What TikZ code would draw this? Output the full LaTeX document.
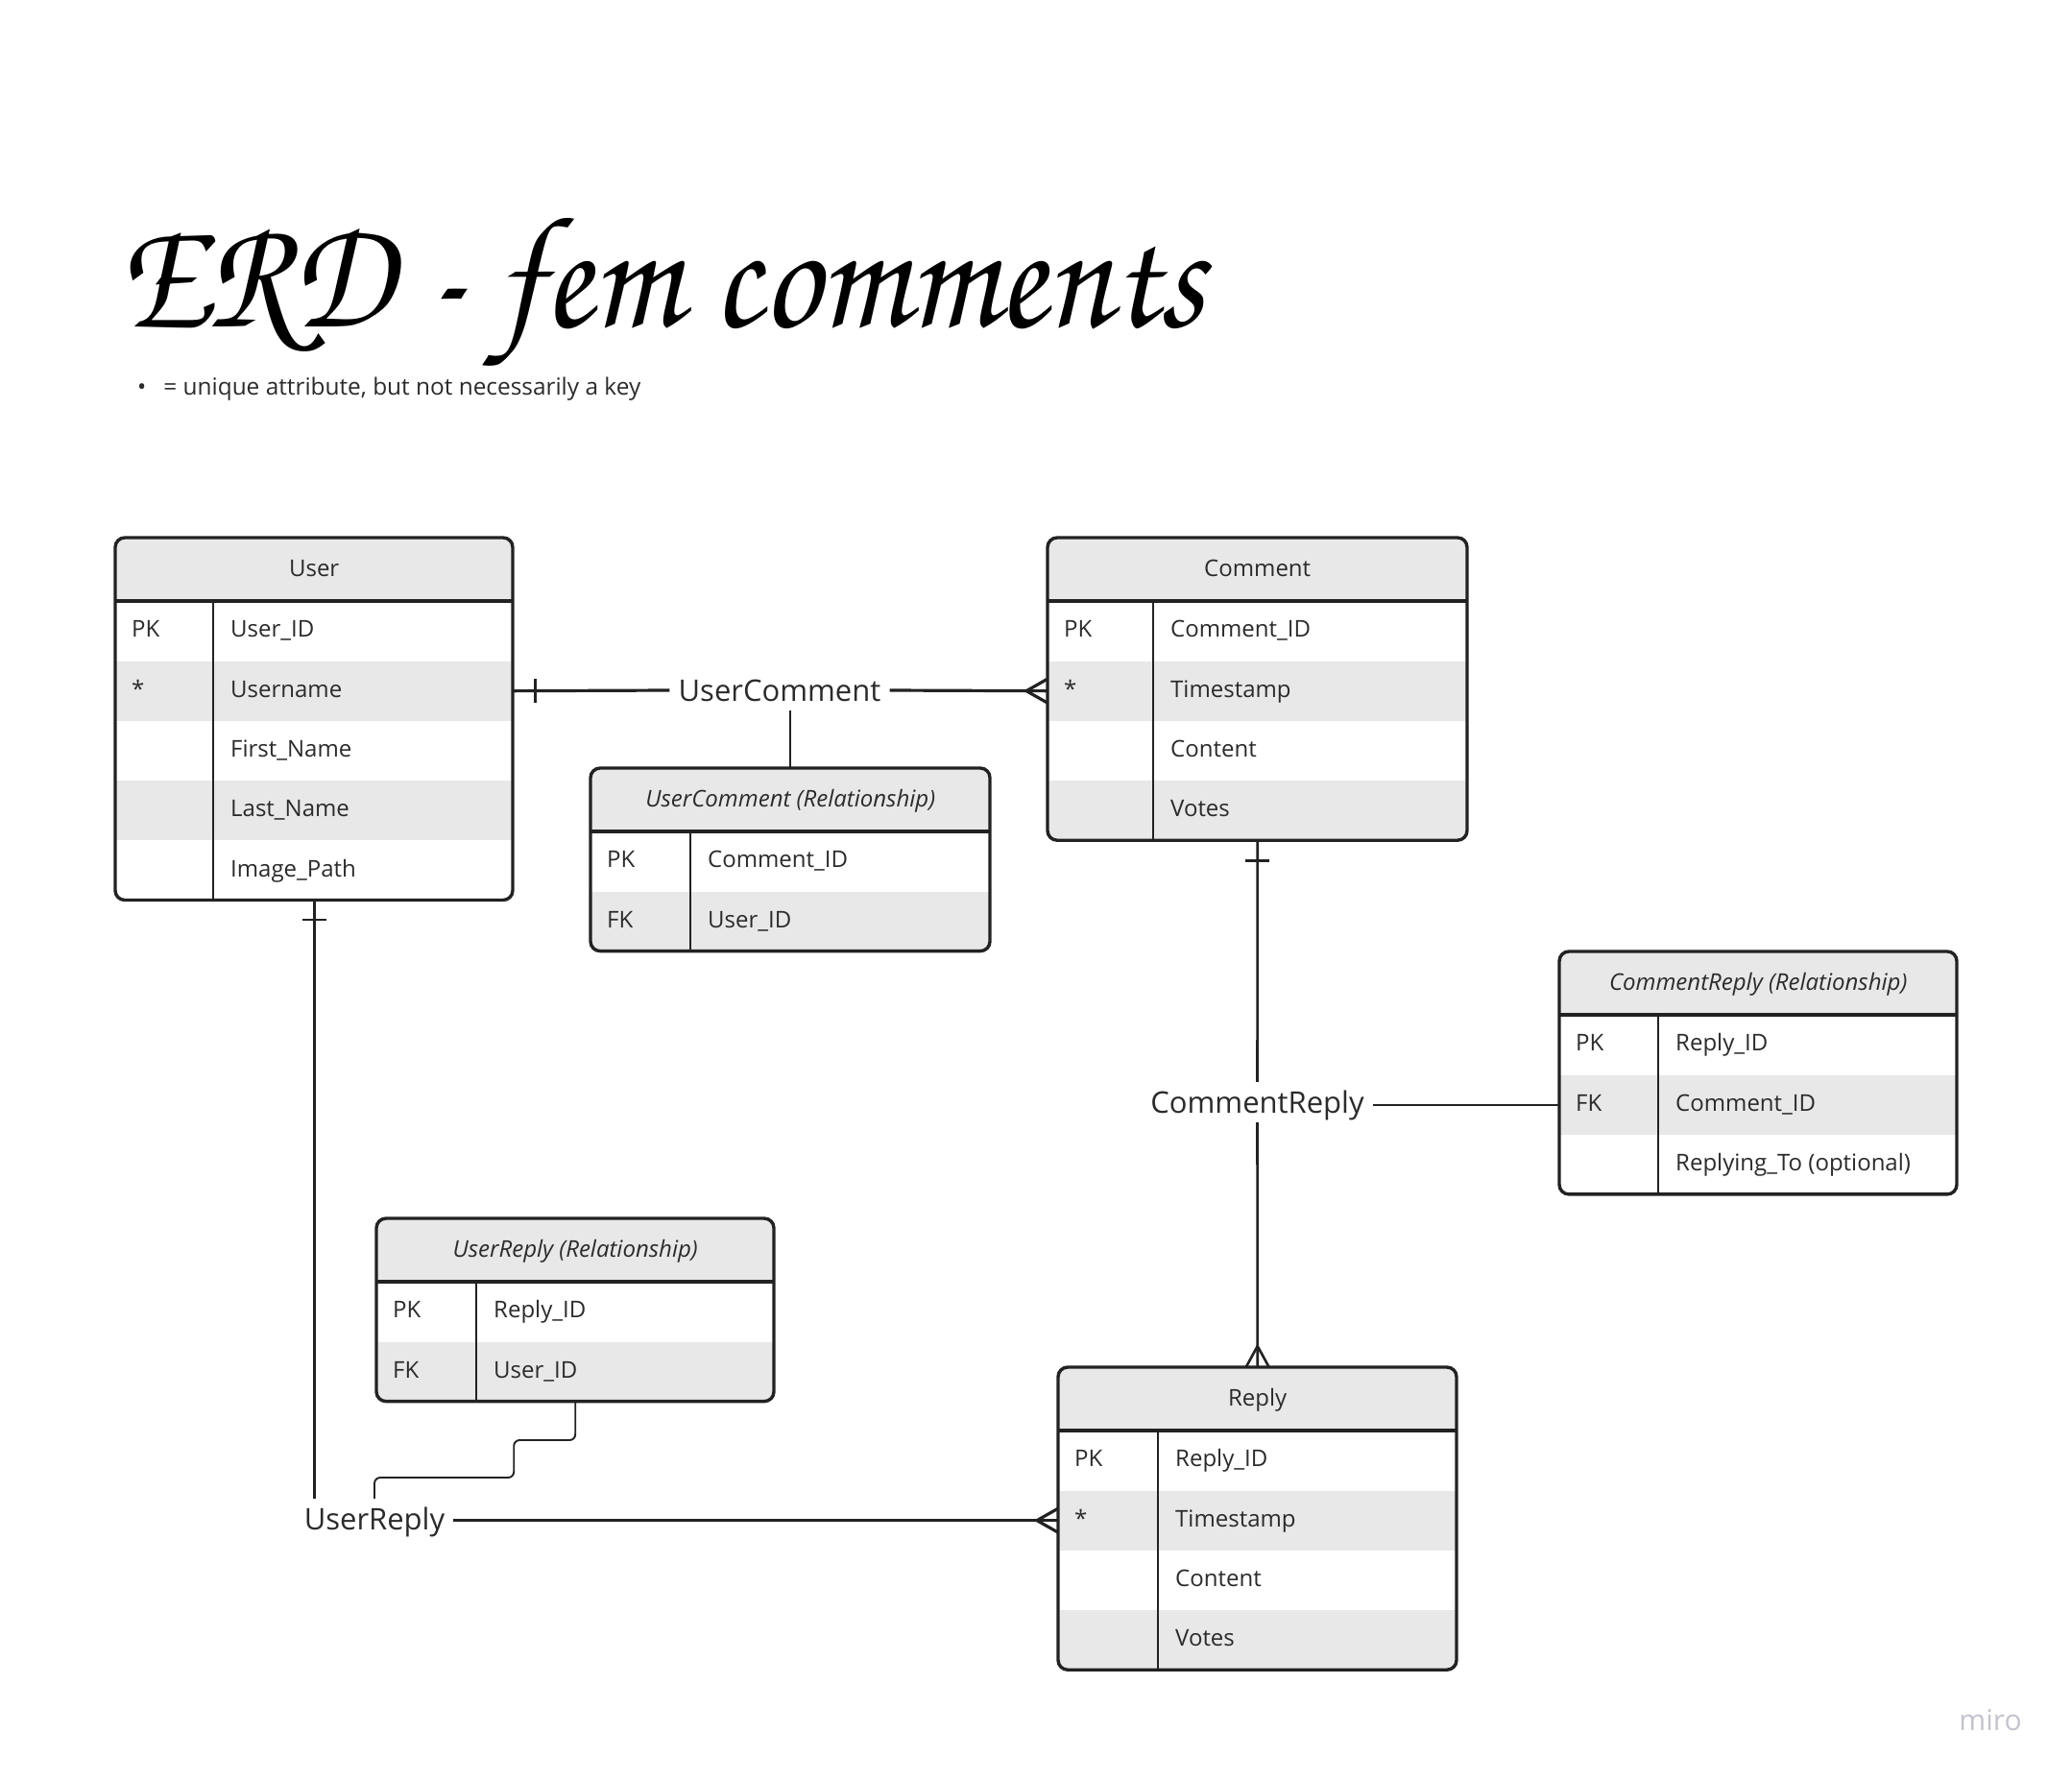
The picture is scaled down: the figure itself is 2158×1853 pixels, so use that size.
\documentclass[tikz,border=0pt]{standalone}
\usepackage{fontspec}
\usepackage{graphicx}
\setmainfont{Open Sans}
\newfontfamily\titlefont{texgyrechorus-mediumitalic.otf}
\usetikzlibrary{positioning,calc}

\definecolor{erdgray}{HTML}{E8E8E8}
\definecolor{erdink}{HTML}{222222}
\definecolor{erdtextcol}{HTML}{2B2B2B}
\definecolor{mirogray}{HTML}{C4C4CE}

\tikzset{
  erdhead/.style={inner sep=0pt, fill=erdgray, minimum height=66pt, text=erdtextcol,
    font=\fontsize{24}{28}\selectfont, text height=17pt, text depth=2pt},
  erdrow/.style={inner sep=0pt, minimum height=62.3pt},
  erdtext/.style={inner sep=0pt, anchor=west, text=erdtextcol,
    font=\fontsize{24}{28}\selectfont, text height=17pt, text depth=4pt},
  erdborder/.style={draw=erdink, line width=3.4pt, rounded corners=10pt},
  erdsep/.style={draw=erdink, line width=3.4pt},
  erddiv/.style={draw=erdink, line width=2.6pt},
  relname/.style={text=erdtextcol, font=\fontsize{31}{36}\selectfont,
    text height=30pt, text depth=8pt, inner xsep=9pt, inner ysep=2pt},
  conn/.style={draw=erdink, line width=3.2pt},
  connmid/.style={draw=erdink, line width=2.6pt},
  connthin/.style={draw=erdink, line width=1.9pt},
}

% #1 name, #2 left, #3 top, #4 width, #5 key column, #6 number of rows, #7 title, #8 rows
\newcommand{\erdtable}[8]{%
  \pgfmathsetmacro{\erdbot}{#3+66+62.3*#6}
  \begin{scope}
    \clip[rounded corners=10pt] (#2,#3) rectangle ({#2+#4},\erdbot);
    \node[erdhead, minimum width=#4pt, anchor=north west] (#1) at (#2,#3) {#7};
    \foreach \k/\a [count=\i] in {#8}{
      \ifodd\i \def\rowfill{white}\else \def\rowfill{erdgray}\fi
      \node[erdrow, fill=\rowfill, minimum width=#4pt, anchor=north west] (#1-\i)
        at ({#2},{#3+66+62.3*(\i-1)}) {};
      \node[erdtext] (#1-\i-key) at ([xshift=17pt]#1-\i.west) {\k};
      \node[erdtext] (#1-\i-att) at ([xshift=#5pt+18pt]#1-\i.west) {\a};
    }
  \end{scope}
  \draw[erdborder] (#2,#3) rectangle ({#2+#4},\erdbot);
  \draw[erdsep] (#2,{#3+66}) -- ({#2+#4},{#3+66});
  \draw[erddiv] ({#2+#5},{#3+66}) -- ({#2+#5},\erdbot);
}

\begin{document}
\begin{tikzpicture}[x=1pt, y=-1pt]
\useasboundingbox[fill=white] (0,0) rectangle (2158,1853);

% title and legend
\node[anchor=base west, inner sep=0pt] (title) at (122,340)
  {\resizebox{1131pt}{113pt}{\titlefont ERD - fem comments}};
\node[anchor=base west, inner sep=0pt, text=erdtextcol, font=\fontsize{24.4}{28}\selectfont] (legend)
  at (143,411) {\textbullet\hspace{18pt}= unique attribute, but not necessarily a key};

% entities
\erdtable{user}{120}{560}{414}{102}{5}{User}
  {PK/User\_ID, */Username, {}/First\_Name, {}/Last\_Name, {}/Image\_Path}
\erdtable{comment}{1091}{560}{437}{110}{4}{Comment}
  {PK/Comment\_ID, */Timestamp, {}/Content, {}/Votes}
\erdtable{reply}{1102}{1424}{415}{104}{4}{Reply}
  {PK/Reply\_ID, */Timestamp, {}/Content, {}/Votes}

% relationships
\erdtable{usercomment}{615}{800}{416}{104}{2}{\itshape UserComment (Relationship)}
  {PK/Comment\_ID, FK/User\_ID}
\erdtable{commentreply}{1624}{991}{414}{103}{3}{\itshape CommentReply (Relationship)}
  {PK/Reply\_ID, FK/Comment\_ID, {}/Replying\_To (optional)}
\erdtable{userreply}{392}{1269}{414}{104}{2}{\itshape UserReply (Relationship)}
  {PK/Reply\_ID, FK/User\_ID}

% UserComment
\node[relname] (uc-label) at (812,719) {UserComment};
\draw[conn] (user-2.east) -- (uc-label.west);
\draw[conn] (uc-label.east) -- (comment-2.west);
\draw[conn] ([xshift=23pt]user-2.east) ++(0,-12.5) -- ++(0,25);
\draw[conn] ([xshift=-22pt]comment-2.west) -- ([yshift=12.5pt]comment-2.west)
  ([xshift=-22pt]comment-2.west) -- ([yshift=-12.5pt]comment-2.west);
\draw[connthin] (usercomment.north) -- (usercomment.north |- uc-label.south);

% UserReply
\node[relname] (ur-label) at (390,1582) {UserReply};
\draw[connmid] (user-5.south) -- (user-5.south |- ur-label.north);
\draw[connmid] ([yshift=-20pt]user-5.south) ++(-12.5,0) -- ++(25,0);
\draw[conn] (ur-label.east |- reply-2.west) -- (reply-2.west);
\draw[conn] ([xshift=-22pt]reply-2.west) -- ([yshift=12.5pt]reply-2.west)
  ([xshift=-22pt]reply-2.west) -- ([yshift=-12.5pt]reply-2.west);
\draw[connthin, rounded corners=6pt] (userreply-2.south) -- ++(0,40) -- ++(-64,0)
  -- ++(0,39) -| (ur-label.north);

% CommentReply
\node[relname] (cr-label) at (1309.5,1148) {CommentReply};
\draw[connmid] (comment-4.south) -- (cr-label.north);
\draw[connmid] (cr-label.south) -- (reply.north);
\draw[connmid] ([yshift=-21pt]comment-4.south) ++(-12.5,0) -- ++(25,0);
\draw[connmid] ([yshift=22pt]reply.north) -- ([xshift=-12pt]reply.north)
  ([yshift=22pt]reply.north) -- ([xshift=12pt]reply.north);
\draw[connthin] (cr-label.east |- commentreply-2.west) -- (commentreply-2.west);

% watermark
\node[text=mirogray, font=\fontsize{30}{34}\selectfont] (miro) at (2073,1792) {miro};
\end{tikzpicture}
\end{document}
